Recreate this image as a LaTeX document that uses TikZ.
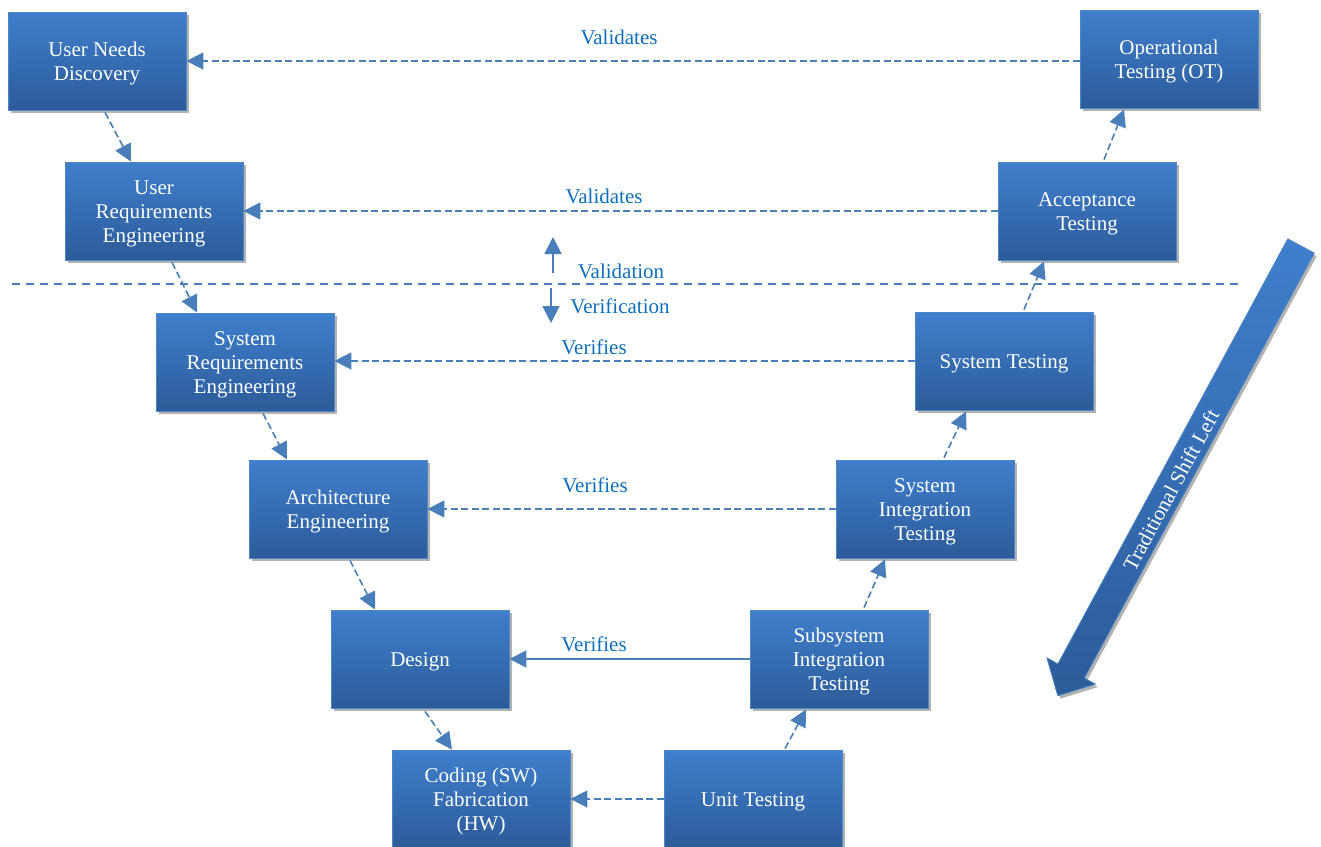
\documentclass[tikz,border=0pt]{standalone}
\usepackage{fontspec}
\setmainfont{Liberation Serif}
\usetikzlibrary{arrows.meta,shadows,calc}
\definecolor{boxtop}{HTML}{3F7FCD}
\definecolor{boxbot}{HTML}{2C5B99}
\definecolor{boxedge}{HTML}{4F86C6}
\definecolor{conncol}{HTML}{4A7EBB}
\definecolor{labcol}{HTML}{0E6FC1}
\newcommand{\bxs}{\rule{0pt}{20pt}}
\tikzset{
  vbox/.style={rectangle, minimum width=178pt, minimum height=98pt, inner sep=0pt,
    top color=boxtop, bottom color=boxbot, draw=boxedge, line width=0.8pt,
    text=white, align=center, font=\fontsize{21}{24}\selectfont,
    drop shadow={shadow xshift=2.5pt, shadow yshift=-3pt, opacity=0.3, fill=black}},
  conn/.style={draw=conncol, line width=1.6pt, dash pattern=on 7pt off 3.5pt,
    -{Triangle[length=17pt,width=17pt,fill=conncol]}},
  solidconn/.style={draw=conncol, line width=1.6pt,
    -{Triangle[length=17pt,width=17pt,fill=conncol]}},
  lab/.style={text=labcol, font=\fontsize{21}{24}\selectfont, inner sep=0pt},
  sepline/.style={draw=conncol, line width=1.5pt, dash pattern=on 8pt off 6pt},
  vvarrow/.style={draw=conncol, line width=1.8pt,
    -{Triangle[length=17pt,width=17pt,fill=conncol]}}
}
\begin{document}
\begin{tikzpicture}[x=1pt,y=1pt]
\useasboundingbox (0,0) rectangle (1321,-846);

% boxes
\node[vbox] (und)  at (97,-61)   {\bxs User Needs\\Discovery};
\node[vbox] (ure)  at (154,-211) {\bxs User\\Requirements\\Engineering};
\node[vbox] (sre)  at (245,-362) {\bxs System\\Requirements\\Engineering};
\node[vbox] (arch) at (338,-509) {\bxs Architecture\\Engineering};
\node[vbox] (des)  at (420,-659) {\bxs Design};
\node[vbox] (cod)  at (481,-799) {\bxs Coding (SW)\\Fabrication\\(HW)};
\node[vbox] (unit) at (753,-799) {\bxs Unit Testing};
\node[vbox] (sub)  at (839,-659) {\bxs Subsystem\\Integration\\Testing};
\node[vbox] (sit)  at (925,-509) {\bxs System\\Integration\\Testing};
\node[vbox] (st)   at (1004,-361) {\bxs System Testing};
\node[vbox] (at)   at (1087,-211) {\bxs Acceptance\\Testing};
\node[vbox] (ot)   at (1169,-59) {\bxs Operational\\Testing (OT)};

% V diagonal connectors
\draw[conn] ($(und.south)+(8,-2)$)  -- ($(ure.north)+(-23,0)$);
\draw[conn] ($(ure.south)+(18,-2)$) -- ($(sre.north)+(-48,0)$);
\draw[conn] ($(sre.south)+(18,-2)$) -- ($(arch.north)+(-51,0)$);
\draw[conn] ($(arch.south)+(12,-2)$) -- ($(des.north)+(-45,0)$);
\draw[conn] ($(des.south)+(5,-3)$) -- ($(cod.north)+(-29,0)$);
\draw[conn] ($(unit.north)+(32,1)$) -- ($(sub.south)+(-33,-1)$);
\draw[conn] ($(sub.north)+(25,2)$) -- ($(sit.south)+(-40,-1)$);
\draw[conn] ($(sit.north)+(19,2)$) -- ($(st.south)+(-38,-1)$);
\draw[conn] ($(st.north)+(20,2)$) -- ($(at.south)+(-43,-1)$);
\draw[conn] ($(at.north)+(17,2)$) -- ($(ot.south)+(-45,-1)$);

% horizontal connectors
\draw[conn] (und.east -| ot.west) -- (und.east);
\draw[conn] (at.west) -- (ure.east);
\draw[conn] (st.west) -- (st.west -| sre.east);
\draw[conn] (sit.west) -- (arch.east);
\draw[solidconn] (sub.west) -- (sub.west -| des.east);
\draw[conn] (unit.west) -- (unit.west -| cod.east);

% labels
\node[lab] (l1) at (619,-37)  {Validates};
\node[lab] (l2) at (604,-196) {Validates};
\node[lab] (l3) at (594,-347) {Verifies};
\node[lab] (l4) at (595,-485) {Verifies};
\node[lab] (l5) at (594,-644) {Verifies};

% validation / verification separator
\coordinate (sepL) at (12,-284);
\coordinate (sepR) at (1240,-284);
\draw[sepline] (sepL) -- (sepR);
\coordinate (upA) at (553,-273);
\coordinate (upB) at (553,-237);
\coordinate (dnA) at (551,-288);
\coordinate (dnB) at (551,-323);
\draw[vvarrow] (upA) -- (upB);
\draw[vvarrow] (dnA) -- (dnB);
\node[lab] (lval) at (621,-271) {Validation};
\node[lab] (lver) at (620,-306) {Verification};

% big arrow
\fill[top color=boxtop, bottom color=boxbot,
      drop shadow={shadow xshift=2.5pt, shadow yshift=-3pt, opacity=0.3, fill=black}]
  (1287.8,-238.9) -- (1314.2,-253.1) -- (1084.3,-678.1) -- (1095.3,-684.1)
  -- (1057.8,-695.7) -- (1046.9,-657.9) -- (1057.9,-663.9) -- cycle;
\draw[draw=boxedge, line width=0.8pt]
  (1287.8,-238.9) -- (1314.2,-253.1) -- (1084.3,-678.1) -- (1095.3,-684.1)
  -- (1057.8,-695.7) -- (1046.9,-657.9) -- (1057.9,-663.9) -- cycle;
\node[text=white, font=\fontsize{21}{24}\selectfont, rotate=61.6, inner sep=0pt]
  (tsl) at (1171,-490) {Traditional Shift Left};
\end{tikzpicture}
\end{document}
